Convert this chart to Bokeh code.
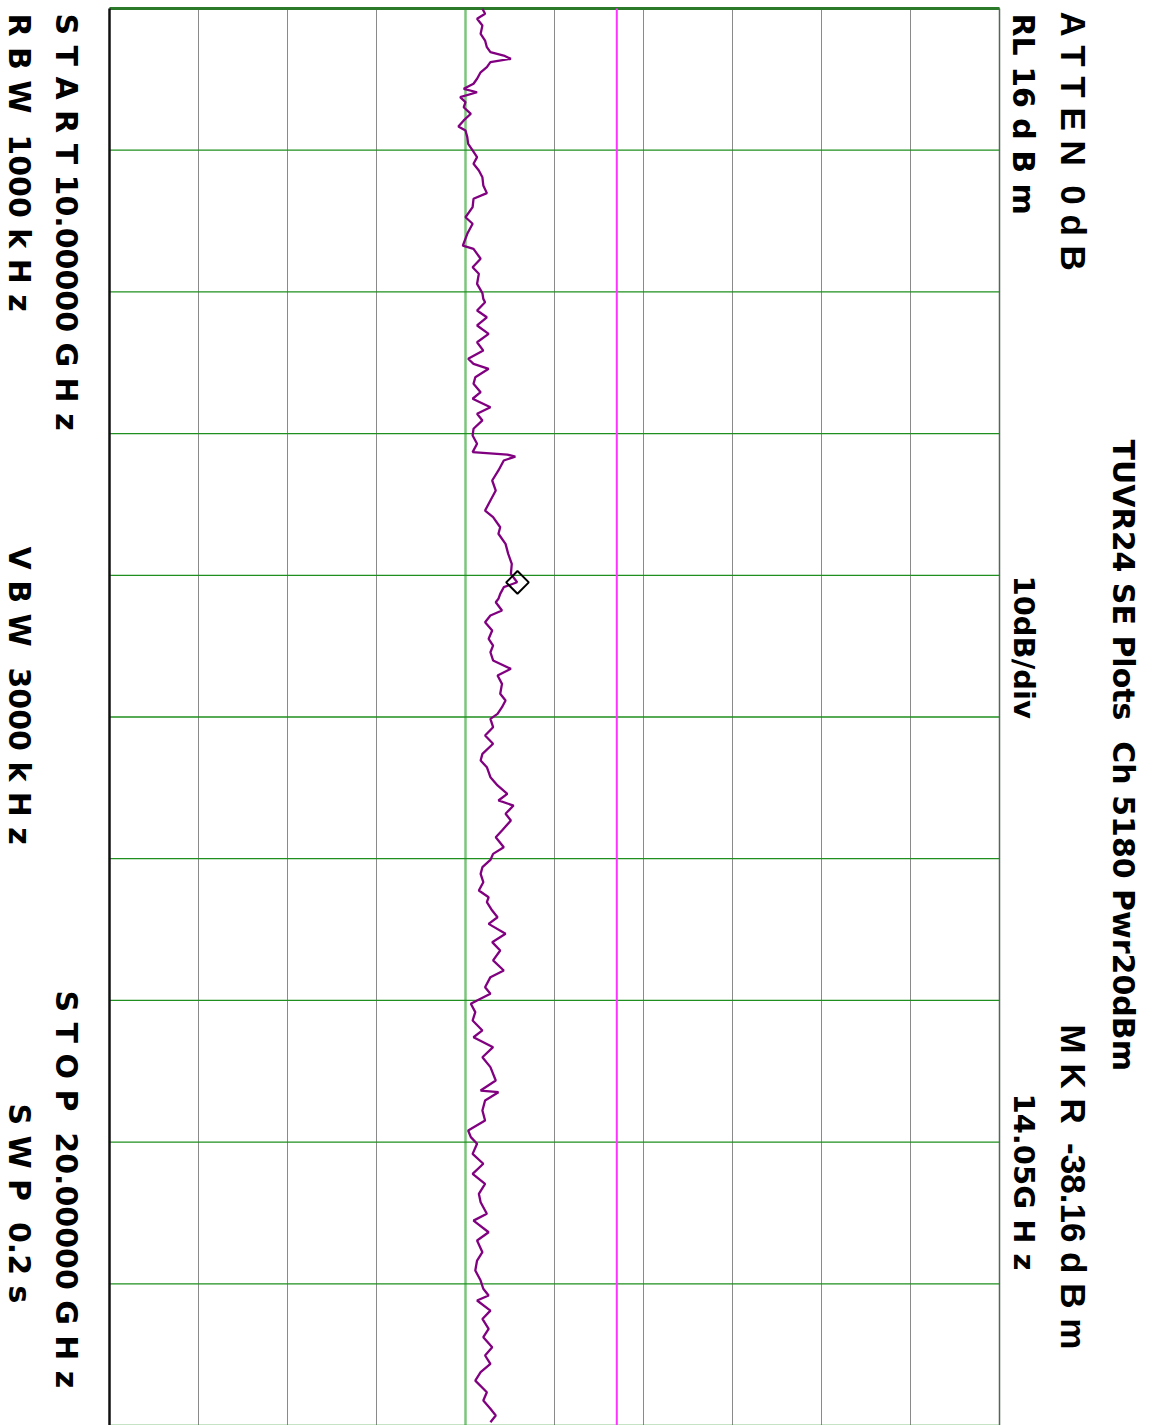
import numpy as np
from bokeh.plotting import figure
from bokeh.models import Range1d, ColumnDataSource
from bokeh.embed import file_html
from bokeh.resources import INLINE
from bokeh.core.properties import value

# ---------------- data ----------------
freq_start = 10.0          # GHz
freq_stop = 20.0           # GHz
ref_level = 16.0           # dBm
db_per_div = 10.0
n_div = 10
limit_level = -27.0        # dBm
display_level = -44.0      # dBm
marker_freq = 14.05        # GHz
marker_level = -38.16      # dBm

trace_freq = [
    10.002, 10.037, 10.073, 10.120, 10.179, 10.226, 10.273, 10.308, 10.332, 10.355,
    10.379, 10.414, 10.450, 10.496, 10.531, 10.567, 10.591, 10.626, 10.661, 10.697,
    10.743, 10.790, 10.833, 10.861, 10.908, 10.955, 11.002, 11.049, 11.096, 11.143,
    11.191, 11.249, 11.303, 11.343, 11.402, 11.473, 11.519, 11.590, 11.673, 11.696,
    11.766, 11.826, 11.872, 11.943, 12.009, 12.049, 12.073, 12.131, 12.179, 12.237,
    12.296, 12.355, 12.414, 12.472, 12.508, 12.543, 12.602, 12.649, 12.708, 12.754,
    12.814, 12.860, 12.907, 12.966, 13.013, 13.072, 13.131, 13.148, 13.162, 13.190,
    13.260, 13.331, 13.402, 13.472, 13.543, 13.590, 13.661, 13.707, 13.778, 13.849,
    13.919, 13.990, 14.049, 14.084, 14.131, 14.166, 14.190, 14.248, 14.284, 14.331,
    14.390, 14.448, 14.496, 14.543, 14.601, 14.660, 14.707, 14.766, 14.836, 14.884,
    14.931, 14.978, 15.013, 15.072, 15.131, 15.189, 15.260, 15.307, 15.354, 15.425,
    15.483, 15.542, 15.589, 15.625, 15.683, 15.730, 15.801, 15.848, 15.919, 15.966,
    16.009, 16.060, 16.107, 16.166, 16.224, 16.272, 16.307, 16.366, 16.413, 16.460,
    16.530, 16.589, 16.648, 16.718, 16.789, 16.836, 16.907, 16.953, 17.001, 17.024,
    17.083, 17.142, 17.212, 17.260, 17.330, 17.401, 17.471, 17.565, 17.636, 17.648,
    17.706, 17.777, 17.848, 17.918, 17.965, 18.012, 18.083, 18.153, 18.224, 18.295,
    18.365, 18.424, 18.506, 18.554, 18.636, 18.694, 18.777, 18.836, 18.906, 18.977,
    19.035, 19.083, 19.118, 19.189, 19.248, 19.318, 19.377, 19.448, 19.506, 19.565,
    19.624, 19.683, 19.765, 19.824, 19.882, 19.929, 19.977,
]
trace_level = [
    -42.1, -41.8, -42.7, -42.1, -42.3, -41.8, -41.6, -41.2, -39.7, -38.9,
    -41.2, -41.6, -42.3, -42.7, -43.1, -44.2, -42.7, -44.6, -44.0, -44.2,
    -43.4, -44.2, -44.8, -44.0, -43.8, -43.7, -43.2, -42.7, -43.1, -42.5,
    -42.1, -42.0, -41.6, -43.1, -43.2, -44.0, -43.2, -43.8, -44.3, -43.1,
    -42.3, -43.2, -42.5, -42.7, -42.1, -42.0, -41.8, -42.7, -41.6, -42.7,
    -41.4, -42.7, -42.0, -43.7, -43.1, -41.4, -42.9, -43.1, -42.3, -43.2,
    -41.2, -42.7, -42.1, -43.1, -43.2, -42.7, -43.2, -39.3, -38.4, -39.7,
    -40.3, -41.0, -40.6, -41.2, -41.8, -40.9, -40.1, -40.3, -39.5, -39.2,
    -38.8, -38.9, -38.2, -39.7, -40.1, -40.3, -40.6, -39.9, -41.2, -41.8,
    -41.0, -41.4, -40.9, -41.2, -40.9, -38.9, -40.4, -39.9, -40.1, -39.5,
    -39.9, -40.4, -41.2, -40.9, -41.8, -40.9, -42.1, -42.3, -41.6, -41.2,
    -40.4, -39.3, -40.3, -38.6, -39.5, -38.9, -39.9, -40.6, -39.7, -40.9,
    -41.2, -42.1, -42.3, -42.0, -42.5, -41.4, -41.6, -41.0, -40.4, -41.4,
    -39.5, -41.0, -40.1, -40.9, -39.7, -41.2, -41.8, -41.2, -42.7, -43.4,
    -42.9, -43.2, -42.1, -43.1, -40.9, -42.1, -41.2, -40.6, -42.3, -40.3,
    -41.8, -42.1, -41.8, -43.7, -43.4, -42.7, -43.2, -42.0, -43.2, -41.8,
    -42.5, -42.3, -41.6, -43.1, -41.4, -42.7, -42.1, -42.7, -42.9, -42.3,
    -42.0, -41.4, -42.7, -41.2, -42.1, -41.4, -42.0, -41.0, -41.8, -41.2,
    -42.3, -42.9, -41.6, -42.0, -41.2, -40.6, -41.2,
]

NB = "\u00a0"
title_text = "TUVR24 SE Plots" + NB + " Ch 5180 Pwr20dBm"
atten_text = "A T T E N" + NB + " 0 d B"
rl_text = "RL 16 d B m"
scale_text = "10dB/div"
mkr_text = "M K R" + NB + " -38.16 d B m"
mkr_freq_text = "14.05G H z"
start_text = "S T A R T 10.00000 G H z"
stop_text = "S T O P" + NB + " 20.00000 G H z"
rbw_text = "R B W" + NB + " 1000 k H z"
vbw_text = "V B W" + NB + " 3000 k H z"
swp_text = "S W P" + NB + " 0.2 s"

# ---------------- layout ----------------
W, H = 1156, 1425
PX_PER_DB = 8.9
PX_PER_GHZ = 141.7
TOP_PX = 8
LEFT_DB = display_level - 465 / PX_PER_DB
x_lo = LEFT_DB
x_hi = LEFT_DB + W / PX_PER_DB
y_top = freq_start - TOP_PX / PX_PER_GHZ
y_bot = y_top + H / PX_PER_GHZ


def dx(px):
    return LEFT_DB + px / PX_PER_DB


def fy(py):
    return y_top + py / PX_PER_GHZ


p = figure(width=W, height=H, output_backend="svg", toolbar_location=None,
           x_range=Range1d(x_lo, x_hi), y_range=Range1d(y_bot, y_top),
           x_axis_type=None, y_axis_type=None, min_border=0,
           background_fill_color="white", border_fill_color="white")
p.outline_line_color = None
p.xgrid.visible = False
p.ygrid.visible = False

levels = [ref_level - db_per_div * i for i in range(n_div + 1)]
bottom_level = levels[-1]
freqs = [freq_start + i * (freq_stop - freq_start) / n_div for i in range(n_div + 1)]

# vertical (amplitude) grid lines
inner = [l for l in levels[1:-1] if l != display_level]
p.segment(x0=inner, y0=[freq_start] * len(inner), x1=inner, y1=[freq_stop] * len(inner),
          line_color="#8a8a8a", line_width=1)
p.segment(x0=[display_level], y0=[freq_start], x1=[display_level], y1=[freq_stop],
          line_color="#7dc47d", line_width=2.5)

# horizontal (frequency) grid lines
p.segment(x0=[bottom_level] * len(freqs), y0=freqs, x1=[ref_level] * len(freqs), y1=freqs,
          line_color="#1f8f1f", line_width=1.3)
p.segment(x0=[bottom_level], y0=[freq_start], x1=[ref_level], y1=[freq_start],
          line_color="#2a7a2a", line_width=3)

# borders
p.segment(x0=[bottom_level], y0=[freq_start], x1=[bottom_level], y1=[freq_stop],
          line_color="#111111", line_width=2.5)
p.segment(x0=[ref_level], y0=[freq_start], x1=[ref_level], y1=[freq_stop],
          line_color="#556655", line_width=1.5)

# limit line
p.segment(x0=[limit_level], y0=[freq_start], x1=[limit_level], y1=[freq_stop],
          line_color="#ff33ff", line_width=2)

# trace
src = ColumnDataSource(dict(f=trace_freq, l=trace_level))
p.line(x="l", y="f", source=src, line_color="#800080", line_width=2.3)

# marker
p.scatter(x=[marker_level], y=[marker_freq], marker="square", size=16,
          angle=np.pi / 4, fill_color=None, line_color="black", line_width=2)

# texts (rotated 90 deg clockwise)
ang = -np.pi / 2
SHIFT = 11


def txt(s, px, py, size, font="DejaVu Sans"):
    p.text(x=[dx(px + SHIFT)], y=[fy(py)], text=[s], angle=ang,
           text_font=value(font), text_font_style="bold",
           text_font_size=size, text_color="black",
           text_align="left", text_baseline="alphabetic")


txt(atten_text, 1062, 11, "35px", "Liberation Sans")
txt(mkr_text, 1062, 1024, "35px", "Liberation Sans")
txt(rl_text, 1012, 13, "30px")
txt(scale_text, 1012, 575, "29px")
txt(mkr_freq_text, 1012, 1093, "29px")
txt(title_text, 1112, 439, "30px")
txt(start_text, 55, 13, "30px")
txt(stop_text, 55, 990, "30px")
txt(rbw_text, 8, 13, "30px")
txt(vbw_text, 8, 546, "30px")
txt(swp_text, 8, 1103, "30px")

open("out.html", "w").write(file_html(p, INLINE))
